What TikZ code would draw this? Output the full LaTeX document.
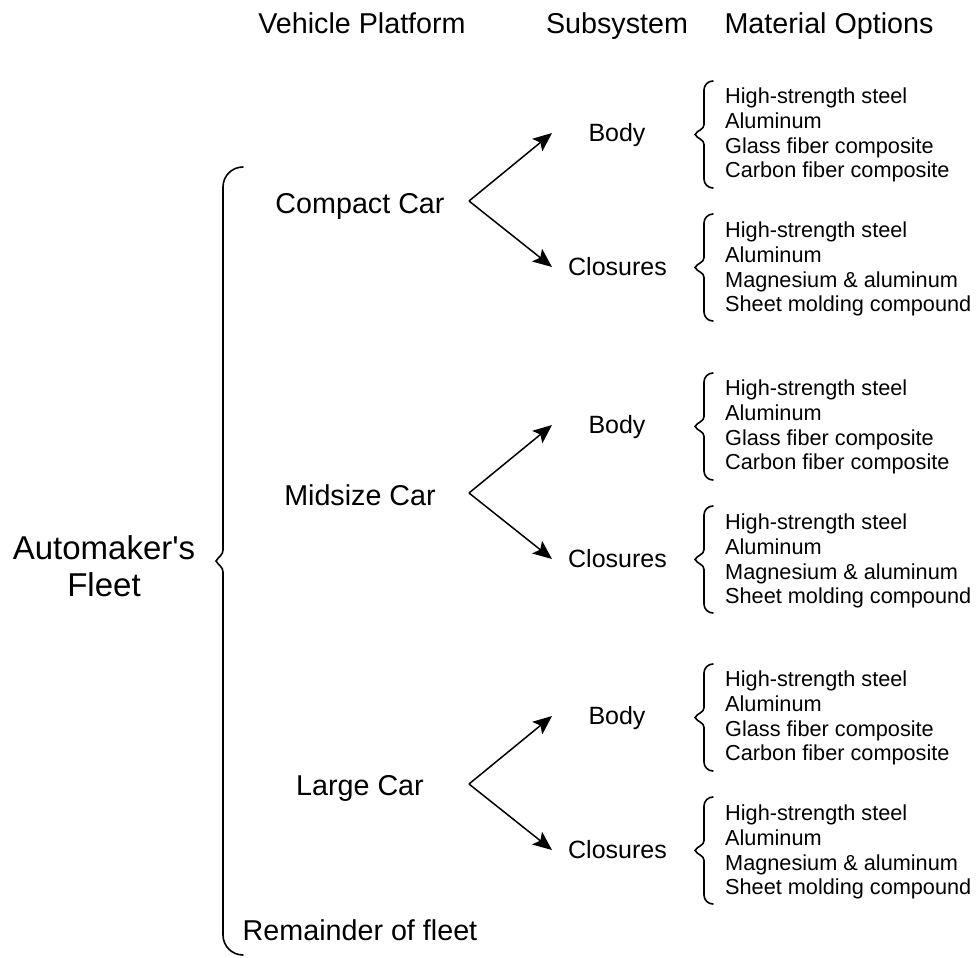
\documentclass[tikz,border=0pt]{standalone}
\usepackage{fontspec}
\setmainfont{Liberation Sans}
\newfontfamily\plainsans{Liberation Sans}
\usetikzlibrary{arrows.meta}
\tikzset{
  head/.style={font=\fontsize{28.7}{34}\selectfont, inner sep=0pt, text height=20.5pt, text depth=0pt},
  subsys/.style={font=\fontsize{25}{30}\selectfont, inner sep=0pt, text height=17.9pt, text depth=0pt},
  mat/.style={font=\fontsize{21.7}{25}\selectfont, inner sep=0pt, text height=15.5pt, text depth=0pt, anchor=west},
  fleet/.style={font=\plainsans\fontsize{33}{37}\selectfont, align=center, inner sep=0pt},
  bracestyle/.style={line width=1.6pt, line cap=round},
  arr/.style={line width=1.5pt, -{Stealth[length=19pt,width=16pt,inset=4pt]}},
}
% #1 x, #2 top, #3 bottom, #4 end radius, #5 middle radius, #6 tip depth
\newcommand{\cbrace}[6]{%
  \pgfmathsetmacro\bx{#1}%
  \pgfmathsetmacro\bt{-(#2)}%
  \pgfmathsetmacro\bb{-(#3)}%
  \pgfmathsetmacro\bm{(\bt+\bb)/2}%
  \draw[bracestyle] (\bx+#4,\bt) to[out=180,in=90] (\bx,\bt-#4)
    -- (\bx,\bm+#5) to[out=-90,in=60] (\bx-#6,\bm)
    to[out=-60,in=90] (\bx,\bm-#5)
    -- (\bx,\bb+#4) to[out=-90,in=180] (\bx+#4,\bb);
}
\begin{document}
\begin{tikzpicture}[x=1pt,y=1pt]
\useasboundingbox (0,0) rectangle (978,-958);
% headings
\node[head] (hPlat) at (362,-23) {Vehicle Platform};
\node[head] (hSub) at (617,-23) {Subsystem};
\node[head] (hMat) at (829,-23) {Material Options};
% fleet
\node[fleet] (fleet) at (104,-566) {Automaker's\\Fleet};
\cbrace{223}{167}{955}{20}{11}{7}
% platforms
\node[head] (compact) at (360,-203) {Compact Car};
\node[head] (midsize) at (360,-495) {Midsize Car};
\node[head] (large) at (360,-785) {Large Car};
\node[head] (remainder) at (360,-930) {Remainder of fleet};
% subsystems, arrows and materials
\foreach \p/\cb/\cc/\n in {201/133/267/1, 493/425/559/2, 784/716/850/3}{
  \node[subsys] (body\n) at (617,-\cb) {Body};
  \node[subsys] (clos\n) at (617.5,-\cc) {Closures};
  \coordinate (apex\n) at (469,-\p);
  \coordinate (tipB\n) at (552,-\cb);
  \coordinate (tipC\n) at (552,-\cc);
  \draw[arr] (apex\n) -- (tipB\n);
  \draw[arr] (apex\n) -- (tipC\n);
  \cbrace{704}{\cb-52}{\cb+55}{9}{10}{9}
  \cbrace{704}{\cc-53}{\cc+54}{9}{10}{9}
  \node[mat] (mb\n a) at (725,-\cb+37) {High-strength steel};
  \node[mat] (mb\n b) at (725,-\cb+12.3) {Aluminum};
  \node[mat] (mb\n c) at (725,-\cb-12.3) {Glass fiber composite};
  \node[mat] (mb\n d) at (725,-\cb-37) {Carbon fiber composite};
  \node[mat] (mc\n a) at (725,-\cc+37) {High-strength steel};
  \node[mat] (mc\n b) at (725,-\cc+12.3) {Aluminum};
  \node[mat] (mc\n c) at (725,-\cc-12.3) {Magnesium \& aluminum};
  \node[mat] (mc\n d) at (725,-\cc-37) {Sheet molding compound};
}
\end{tikzpicture}
\end{document}
